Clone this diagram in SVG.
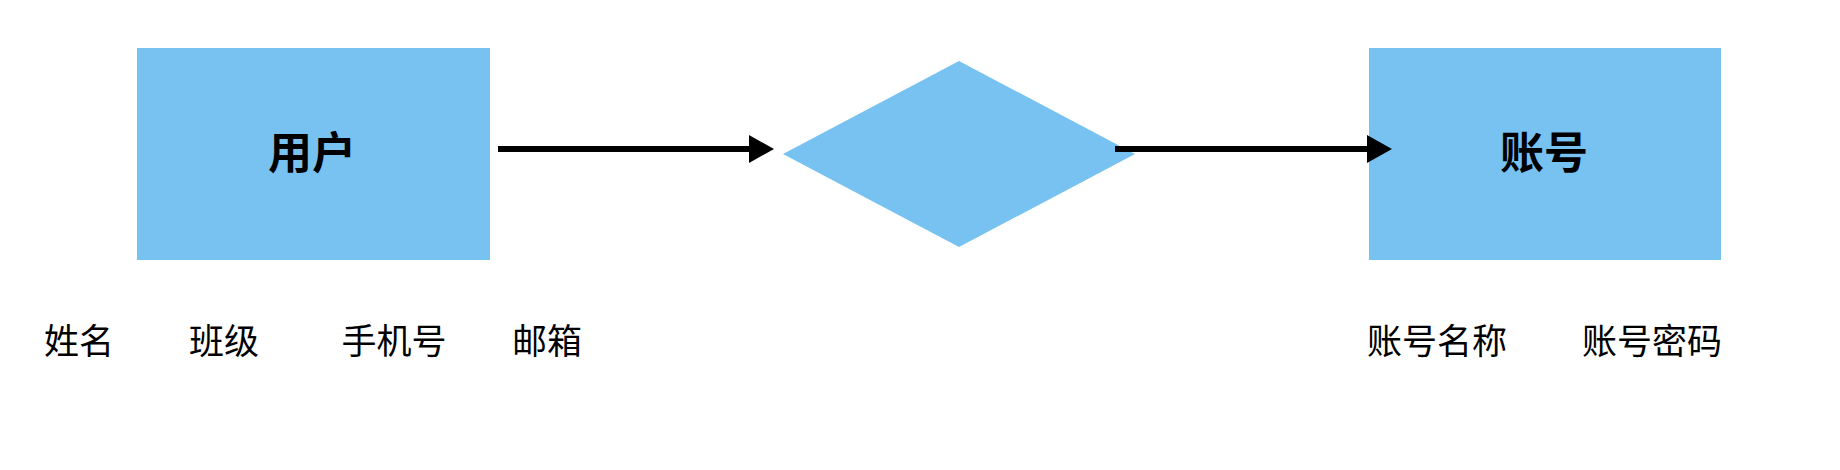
<svg xmlns="http://www.w3.org/2000/svg" width="1840" height="470" viewBox="0 0 1840 470">
<style>
.shape{fill:#77c2f0;}
.title{font-family:"Noto Sans CJK SC","Noto Sans",sans-serif;font-size:44px;font-weight:bold;fill:#000;text-anchor:middle;dominant-baseline:central;}
.label{font-family:"Noto Sans CJK SC","Noto Sans",sans-serif;font-size:35px;fill:#000;text-anchor:middle;dominant-baseline:central;}
.conn{stroke:#000;stroke-width:6;fill:none;}
</style>
<defs>
<marker id="arrow" markerUnits="userSpaceOnUse" markerWidth="26" markerHeight="28" refX="0" refY="14" orient="auto">
<path d="M0,0 L25,14 L0,28 Z" fill="#000"/>
</marker>
</defs>
<rect width="1840" height="470" fill="#fff"/>
<g id="user">
<rect class="shape" x="137" y="48" width="353" height="212"/>
<text class="title" x="312" y="150">用户</text>
</g>
<g id="relation">
<polygon class="shape" points="783,154 959,61 1135,154 959,247"/>
</g>
<g id="account">
<rect class="shape" x="1369" y="48" width="352" height="212"/>
<text class="title" x="1544" y="150">账号</text>
</g>
<g id="connectors">
<line class="conn" x1="498" y1="149" x2="749" y2="149" marker-end="url(#arrow)"/>
<line class="conn" x1="1115" y1="149" x2="1367" y2="149" marker-end="url(#arrow)"/>
</g>
<g id="attr-name"><text class="label" x="79" y="338">姓名</text></g>
<g id="attr-class"><text class="label" x="224" y="338">班级</text></g>
<g id="attr-phone"><text class="label" x="394" y="338">手机号</text></g>
<g id="attr-email"><text class="label" x="547" y="338">邮箱</text></g>
<g id="attr-accname"><text class="label" x="1437" y="338">账号名称</text></g>
<g id="attr-accpwd"><text class="label" x="1652" y="338">账号密码</text></g>
</svg>
